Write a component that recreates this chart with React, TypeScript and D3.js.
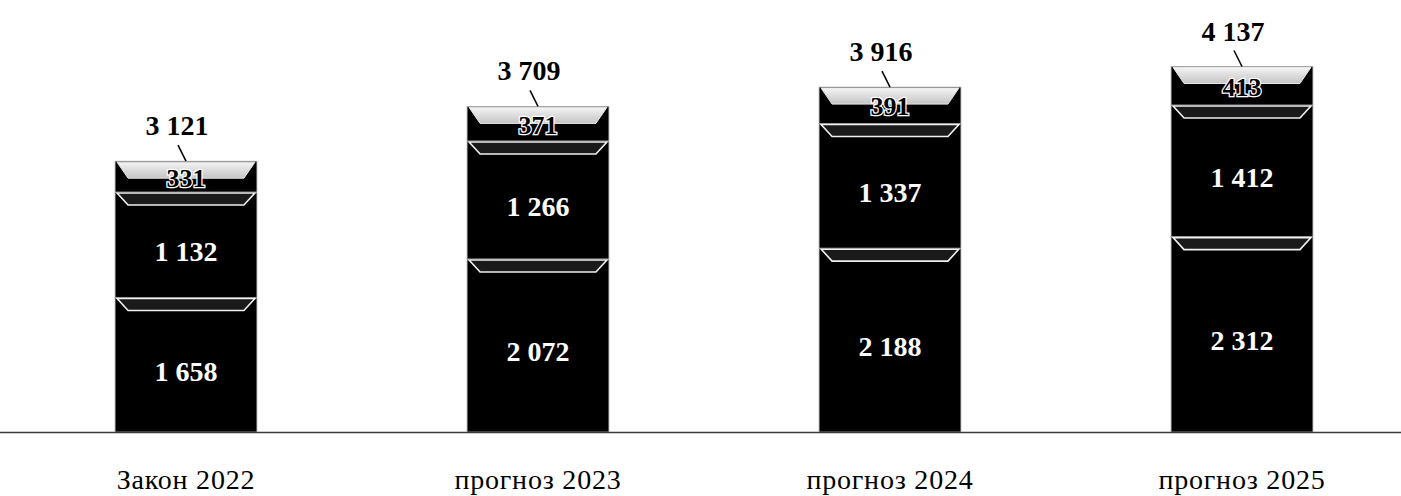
import React, { useEffect, useRef } from 'react';
import * as d3 from 'd3';

const categories = ['Закон 2022', 'прогноз 2023', 'прогноз 2024', 'прогноз 2025'];
const baseValues = [1658, 2072, 2188, 2312];
const middleValues = [1132, 1266, 1337, 1412];
const topValues = [331, 371, 391, 413];
const totals = [3121, 3709, 3916, 4137];

const width = 1401;
const height = 496;
const serif = '"Liberation Serif", "Times New Roman", serif';
const fmt = (v: number) => d3.format(',')(v).replace(/,/g, ' ');

export default function App() {
  const ref = useRef<SVGSVGElement>(null);

  useEffect(() => {
    const svg = d3.select(ref.current);
    svg.selectAll('*').remove();

    const x = d3.scaleBand<string>()
      .domain(categories)
      .range([10, 1418])
      .paddingInner(0.597)
      .paddingOuter(0.2985);

    // value axis is hidden and does not start at zero
    const y = d3.scaleLinear().domain([215, 4137]).range([432, 66.5]).clamp(true);

    const rows = categories.map((c, i) => ({
      cat: c,
      vals: [baseValues[i], middleValues[i], topValues[i]],
      total: totals[i],
    }));
    const stack = d3.stack<any>().keys(['0', '1', '2'])
      .value((d, k) => d.vals[+k]);
    const series = stack(rows);

    const defs = svg.append('defs');
    const grad = defs.append('linearGradient').attr('id', 'bevel')
      .attr('x1', 0).attr('x2', 0).attr('y1', 0).attr('y2', 1);
    grad.append('stop').attr('offset', '0%').attr('stop-color', '#f4f4f4');
    grad.append('stop').attr('offset', '100%').attr('stop-color', '#c4c4c4');

    const bw = x.bandwidth();

    series.forEach((s, si) => {
      const g = svg.append('g');
      g.selectAll('rect')
        .data(s)
        .enter()
        .append('rect')
        .attr('x', d => x(d.data.cat)!)
        .attr('y', d => y(d[1]))
        .attr('width', bw)
        .attr('height', d => y(d[0]) - y(d[1]))
        .attr('fill', '#000')
        .attr('stroke', '#b0b0b0')
        .attr('stroke-width', 0.8);

      const isTop = si === 2;
      const bh = isTop ? 16 : 12;
      const inset = 13;
      g.selectAll('path')
        .data(s)
        .enter()
        .append('path')
        .attr('d', d => {
          const x0 = x(d.data.cat)!;
          const yt = y(d[1]) + 1;
          return `M${x0 + 2},${yt} L${x0 + bw - 2},${yt} L${x0 + bw - inset},${yt + bh} L${x0 + inset},${yt + bh} Z`;
        })
        .attr('fill', isTop ? 'url(#bevel)' : '#1a1a1a')
        .attr('stroke', isTop ? '#e8e8e8' : '#f0f0f0')
        .attr('stroke-width', isTop ? 1 : 1.6);

      g.selectAll('text')
        .data(s)
        .enter()
        .append('text')
        .attr('x', d => x(d.data.cat)! + bw / 2)
        .attr('y', d => (y(d[0]) + y(d[1])) / 2 + (isTop ? 1 : 6))
        .attr('dy', '0.35em')
        .attr('text-anchor', 'middle')
        .attr('font-family', serif)
        .attr('font-weight', 'bold')
        .attr('font-size', isTop ? 26 : 28)
        .attr('fill', isTop ? '#000' : '#fff')
        .attr('stroke', isTop ? '#fff' : 'none')
        .attr('stroke-width', isTop ? 2.5 : 0)
        .attr('paint-order', 'stroke')
        .text(d => fmt(d.data.vals[si]));
    });

    // baseline
    svg.append('line')
      .attr('x1', 0).attr('x2', width)
      .attr('y1', 432.5).attr('y2', 432.5)
      .attr('stroke', '#3a3a3a').attr('stroke-width', 1.5);

    // totals with leader lines
    const tg = svg.append('g');
    tg.selectAll('line')
      .data(rows)
      .enter()
      .append('line')
      .attr('x1', d => x(d.cat)! + bw / 2 - 8)
      .attr('x2', d => x(d.cat)! + bw / 2)
      .attr('y1', d => y(d.total) - 16)
      .attr('y2', d => y(d.total))
      .attr('stroke', '#000')
      .attr('stroke-width', 1.5);

    tg.selectAll('text')
      .data(rows)
      .enter()
      .append('text')
      .attr('x', d => x(d.cat)! + bw / 2 - 9)
      .attr('y', d => y(d.total) - 26)
      .attr('text-anchor', 'middle')
      .attr('font-family', serif)
      .attr('font-weight', 'bold')
      .attr('font-size', 28)
      .attr('fill', '#000')
      .text(d => fmt(d.total));

    // category axis labels
    svg.append('g')
      .selectAll('text')
      .data(categories)
      .enter()
      .append('text')
      .attr('x', d => x(d)! + bw / 2)
      .attr('y', 489)
      .attr('text-anchor', 'middle')
      .attr('font-family', serif)
      .attr('font-size', 28)
      .attr('letter-spacing', 0.8)
      .attr('fill', '#000')
      .text(d => d);
  }, []);

  return (
    <svg
      ref={ref}
      width={width}
      height={height}
      style={{ position: 'absolute', left: 0, top: 0, background: '#fff' }}
    />
  );
}
